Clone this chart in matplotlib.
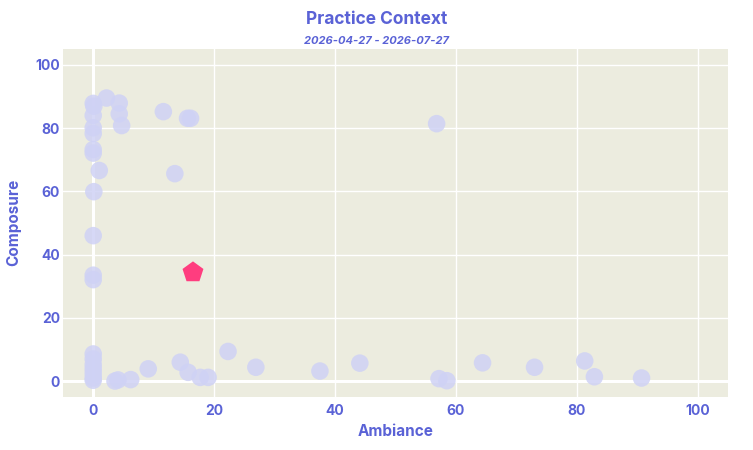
import matplotlib
matplotlib.use("Agg")
import matplotlib.pyplot as plt

# data
ambiance = [0.0, 0.1, 2.2, 4.3, 4.3, 4.7, 11.6, 15.6, 16.1, 0.0, 0.0, 0.0,
            0.0, 0.0, 1.0, 13.5, 56.8, 0.1, 0.0, 0.0, 0.0,
            0.0, 0.0, 0.0, 0.0, 0.0, 0.0, 0.0,
            3.6, 4.1, 6.2, 9.1, 14.4, 15.7, 17.7, 19.0, 22.3, 26.9,
            37.5, 44.1, 57.2, 58.5, 64.4, 73.0, 81.3, 82.9, 90.7]
composure = [87.8, 86.9, 89.5, 87.9, 84.5, 80.8, 85.2, 83.1, 83.1, 84.0, 80.1, 78.3,
             73.2, 72.1, 66.6, 65.6, 81.4, 59.9, 46.0, 33.5, 32.1,
             8.6, 7.0, 5.2, 3.8, 2.4, 1.0, 0.3,
             0.05, 0.4, 0.5, 3.9, 6.0, 2.8, 1.2, 1.2, 9.4, 4.4,
             3.2, 5.7, 0.8, 0.15, 5.8, 4.4, 6.4, 1.4, 1.0]
current_x = [16.5]
current_y = [34.4]

TEXT = "#5a62d6"
BG = "#ececdf"

plt.rcParams['font.family'] = ['Inter', 'DejaVu Sans']

fig = plt.figure(figsize=(7.53, 4.5), dpi=100)
ax = fig.add_axes([63 / 753, 1 - 397 / 450, (728 - 63) / 753, (397 - 49) / 450])
ax.set_facecolor(BG)

ax.scatter(ambiance, composure, s=160, color="#cfd2f5", alpha=0.85,
           edgecolors="none", zorder=3)
ax.scatter(current_x, current_y, s=250, marker="p", color="#ff3d7f",
           edgecolors="none", zorder=4)

ax.set_xlim(-5, 105)
ax.set_ylim(-5, 105)
ticks = [0, 20, 40, 60, 80, 100]
ax.set_xticks(ticks)
ax.set_yticks(ticks)
ax.grid(color="white", linewidth=1, zorder=1)
ax.axvline(0, color="white", linewidth=2.2, zorder=2)
ax.axhline(0, color="white", linewidth=2.2, zorder=2)
for s in ax.spines.values():
    s.set_visible(False)
ax.tick_params(axis="y", length=0, pad=2, labelsize=10, labelcolor=TEXT)
ax.tick_params(axis="x", length=0, pad=5, labelsize=10, labelcolor=TEXT)
for lbl in ax.get_xticklabels() + ax.get_yticklabels():
    lbl.set_fontweight("bold")

fig.text(0.5 * (63 + 728) / 753, 1 - 432 / 450, "Ambiance", ha="center", va="center",
         fontsize=11, fontweight="bold", color=TEXT)
fig.text(14 / 753, 1 - 222 / 450, "Composure", ha="center", va="center", rotation=90,
         fontsize=11, fontweight="bold", color=TEXT)

fig.text(0.5, 1 - 19 / 450, "Practice Context", ha="center", va="center",
         fontsize=12.5, fontweight="bold", color=TEXT)
fig.text(0.5, 1 - 41 / 450, "2026-04-27 - 2026-07-27", ha="center", va="center",
         fontsize=8, fontweight="bold", style="italic", color=TEXT)

fig.savefig("out.png", dpi=100, facecolor="white")
